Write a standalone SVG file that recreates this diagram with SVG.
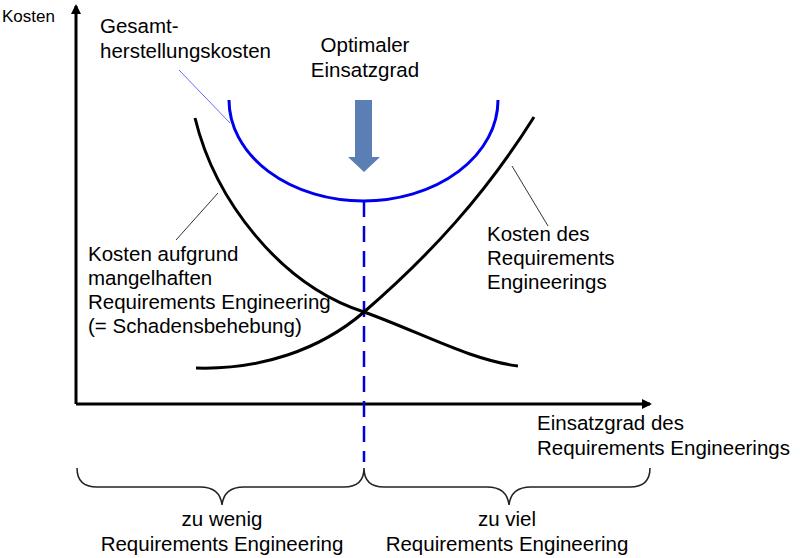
<svg xmlns="http://www.w3.org/2000/svg" width="800" height="558" viewBox="0 0 800 558">
<style>
text{font-family:"Liberation Sans",Arial,sans-serif;font-size:20.5px;fill:#000}
.c{fill:none;stroke:#000;stroke-width:3}
.l{fill:none;stroke:#333;stroke-width:1}
.m{text-anchor:middle}
</style>
<defs><marker id="ah" markerWidth="10" markerHeight="10" refX="8" refY="5" orient="auto" markerUnits="userSpaceOnUse"><path d="M0,0L10,5L0,10z" fill="#000"/></marker></defs>
<rect width="800" height="558" fill="#fff"/>
<g id="connectors">
<line x1="76" y1="404" x2="76" y2="6" stroke="#000" stroke-width="3" marker-end="url(#ah)"/>
<line x1="76" y1="404" x2="650" y2="404" stroke="#000" stroke-width="3" marker-end="url(#ah)"/>
<line x1="364" y1="201" x2="364" y2="462" stroke="#0000dd" stroke-width="2.5" stroke-dasharray="16,9"/>
<line x1="179" y1="70" x2="230" y2="123" stroke="#6070ff" stroke-width="1"/>
<line x1="218" y1="193" x2="176" y2="240" class="l"/>
<line x1="512" y1="166" x2="548" y2="226" class="l"/>
<path d="M77,468 Q77,487 97,487 L200,487 Q220,487 222,505 Q224,487 244,487 L344,487 Q364,487 364,468 Q364,487 384,487 L487,487 Q507,487 509,505 Q511,487 531,487 L630,487 Q650,487 650,468" fill="none" stroke="#222" stroke-width="1.5"/>
</g>
<g id="blue-curve"><path d="M229,100 A134.5,101 0 0 0 498,100" fill="none" stroke="#0000ee" stroke-width="3"/></g>
<g id="curve-rework"><path d="M195,118 C215,200 280,285 364,312 C420,332 470,360 518,366" class="c"/></g>
<g id="curve-re"><path d="M196,368 C260,370 320,350 364,312 C430,255 485,195 534,117" class="c"/></g>
<g id="arrow"><path d="M355,100 H372 V157 H380 L364,172 L348,157 H355 Z" fill="#5b7fb5"/></g>
<g id="labels">
<text x="2" y="22" style="font-size:17px">Kosten</text>
<text x="100" y="33">Gesamt-</text>
<text x="100" y="58">herstellungskosten</text>
<text x="365" y="52" class="m">Optimaler</text>
<text x="365" y="77" class="m">Einsatzgrad</text>
<text x="88" y="261">Kosten aufgrund</text>
<text x="88" y="285">mangelhaften</text>
<text x="88" y="309">Requirements Engineering</text>
<text x="88" y="333">(= Schadensbehebung)</text>
<text x="487" y="241">Kosten des</text>
<text x="487" y="265">Requirements</text>
<text x="487" y="289">Engineerings</text>
<text x="537" y="430">Einsatzgrad des</text>
<text x="537" y="455">Requirements Engineerings</text>
<text x="222" y="526" class="m">zu wenig</text>
<text x="222" y="551" class="m">Requirements Engineering</text>
<text x="507" y="526" class="m">zu viel</text>
<text x="507" y="551" class="m">Requirements Engineering</text>
</g>
</svg>
